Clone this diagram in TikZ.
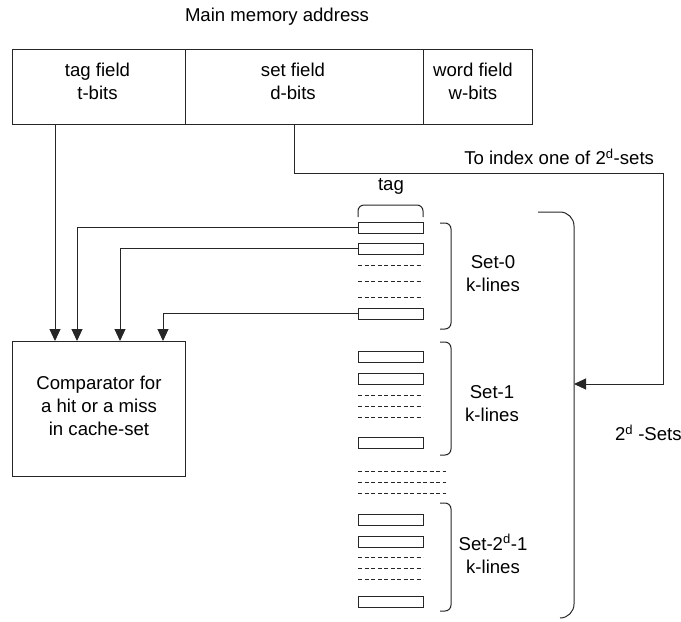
\documentclass[tikz,border=0pt]{standalone}
\usepackage{fontspec}
\setmainfont{Liberation Sans}
\usetikzlibrary{arrows.meta}
\begin{document}
\begin{tikzpicture}[x=1pt,y=-1pt,
  every node/.style={font=\fontsize{18.6}{23}\selectfont, inner sep=0pt, outer sep=0pt},
  fieldbox/.style={draw=black!85, line width=1pt, minimum height=75pt},
  txt/.style={align=center},
  tagline/.style={draw=black!85, line width=1pt, minimum width=65pt, minimum height=11pt},
  arr/.style={draw=black!85, line width=1pt, -{Triangle[length=12pt,width=11pt]}},
  dashrow/.style={draw=black!85, line width=0.8pt, dash pattern=on 4pt off 2.5pt},
  brk/.style={draw=black!85, line width=1pt, rounded corners=6pt},
  bigbrk/.style={draw=black!85, line width=1pt, rounded corners=14pt}]
\useasboundingbox (0,0) rectangle (681,622);

% title
\node (title) at (277,17) {Main memory address};

% address fields
\node[fieldbox, minimum width=173pt] (tagf) at (98.5,86.5) {};
\node[fieldbox, minimum width=238pt] (setf) at (304,86.5) {};
\node[fieldbox, minimum width=109pt] (wordf) at (477.5,86.5) {};
\node[txt] (tagt) at (97.5,81) {tag field\\t-bits};
\node[txt] (sett) at (293,81) {set field\\d-bits};
\node[txt] (wordt) at (473,81) {word field\\w-bits};

% comparator
\node[draw=black!85, line width=1pt, minimum width=173pt, minimum height=135pt] (cmp) at (98.5,408.5) {};
\node[txt] (cmpt) at (99,405.5) {Comparator for\\a hit or a miss\\in cache-set};
\coordinate (in1) at (55,341);
\coordinate (in2) at (77,341);
\coordinate (in3) at (120,341);
\coordinate (in4) at (163,341);

% tag label and brace
\node (tagl) at (391,186) {tag};
\draw[brk] (358,217) -- (358,205) -- (423,205) -- (423,217);

% Set-0 lines
\node[tagline] (r00) at (390.5,227.5) {};
\node[tagline] (r01) at (390.5,248.5) {};
\node[tagline] (r02) at (390.5,313.5) {};
\foreach \yy in {265,281,297} \draw[dashrow] (358,\yy) -- (423,\yy);
\draw[brk] (440,223) -- (451,223) -- (451,329) -- (440,329);
\node[txt] (s0) at (493,273.5) {Set-0\\k-lines};

% Set-1 lines
\node[tagline] (r10) at (390.5,357) {};
\node[tagline] (r11) at (390.5,378.5) {};
\node[tagline] (r12) at (390.5,443) {};
\foreach \yy in {395,406,417} \draw[dashrow] (358,\yy) -- (423,\yy);
\draw[brk] (440,342) -- (451,342) -- (451,455) -- (440,455);
\node[txt] (s1) at (492,404) {Set-1\\k-lines};

% gap dashes
\foreach \yy in {471,482,493} \draw[dashrow] (358,\yy) -- (446,\yy);

% Set-2^d-1 lines
\node[tagline] (r20) at (390.5,519.5) {};
\node[tagline] (r21) at (390.5,541.5) {};
\node[tagline] (r22) at (390.5,601.5) {};
\foreach \yy in {557,568,579} \draw[dashrow] (358,\yy) -- (423,\yy);
\draw[brk] (440,503) -- (451,503) -- (451,611) -- (440,611);
\node[txt] (s2) at (493,554) {Set-2\textsuperscript{d}-1\\k-lines};

% big brace
\draw[bigbrk] (538,212) -- (574,212) -- (574,618) -- (560,618);
\coordinate (bb) at (574,384);
\node[anchor=west] (sets) at (615,433) {2\textsuperscript{d} -Sets};

% connectors
\draw[arr] (tagf.south -| in1) -- (in1);
\draw[arr] (r00.west) -| (in2);
\draw[arr] (r01.west) -| (in3);
\draw[arr] (r02.west) -| (in4);
\coordinate (setout) at (294,124);
\coordinate (turn) at (663,173);
\draw[arr] (setout) |- (turn) |- (bb);
\node[anchor=east] (idx) at (654,157) {To index one of 2\textsuperscript{d}-sets};
\end{tikzpicture}
\end{document}
